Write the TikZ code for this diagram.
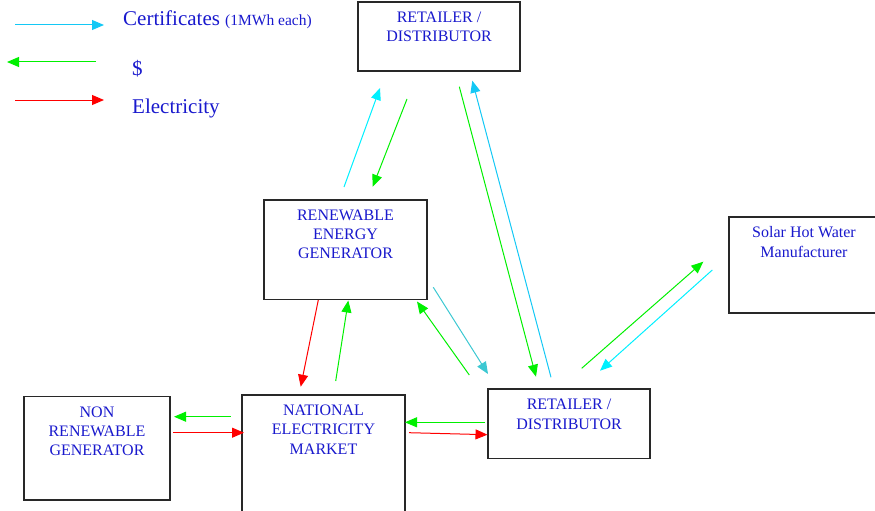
\documentclass[tikz,border=0pt]{standalone}
\usepackage{fontspec}
\setmainfont{Liberation Serif}
\usetikzlibrary{arrows.meta}
\definecolor{txtblue}{RGB}{25,25,205}
\definecolor{cgreen}{RGB}{0,240,0}
\definecolor{cred}{RGB}{255,0,0}
\definecolor{ccyan}{RGB}{0,240,255}
\definecolor{csky}{RGB}{20,200,245}
\definecolor{cteal}{RGB}{60,200,210}
\definecolor{boxline}{RGB}{40,40,40}
\tikzset{
  box/.style={draw=boxline, line width=1.3pt, fill=white, inner sep=0pt},
  boxtext/.style={text=txtblue, align=center, font=\fontsize{16}{19.2}\selectfont, inner sep=0pt},
  legtext/.style={text=txtblue, anchor=base west, inner sep=0pt, font=\fontsize{21}{24}\selectfont},
  arr/.style={line width=1pt, -{Triangle[length=12pt,width=10pt]}}
}
\begin{document}
\begin{tikzpicture}[x=1pt,y=-1pt]
\useasboundingbox (0,0) rectangle (875,511);
\clip (0,0) rectangle (875,511);

% boxes
\node[box, minimum width=162, minimum height=69] (topret) at (439,36.5) {};
\node[box, minimum width=163, minimum height=99.5] (reg) at (345.5,249.75) {};
\node[box, minimum width=151, minimum height=96] (solar) at (804.5,265) {};
\node[box, minimum width=146, minimum height=103.5] (nonren) at (97,448.25) {};
\node[box, minimum width=163, minimum height=130] (nem) at (323.5,460) {};
\node[box, minimum width=162, minimum height=69.5] (botret) at (569,423.75) {};

% box texts
\node[boxtext] (topretT) at (439,26.5) {RETAILER /\\DISTRIBUTOR};
\node[boxtext] (regT) at (345.5,234) {RENEWABLE\\ENERGY\\GENERATOR};
\node[boxtext] (solarT) at (804,242) {Solar Hot Water\\Manufacturer};
\node[boxtext] (nonrenT) at (97,431) {NON\\RENEWABLE\\GENERATOR};
\node[boxtext] (nemT) at (323.5,429.5) {NATIONAL\\ELECTRICITY\\MARKET};
\node[boxtext] (botretT) at (569,414.2) {RETAILER /\\DISTRIBUTOR};

% legend
\coordinate (lc1) at (15,25);   \coordinate (lc2) at (104,25);
\coordinate (lg1) at (96,62);   \coordinate (lg2) at (7,62);
\coordinate (lr1) at (15,100);  \coordinate (lr2) at (104,100);
\draw[arr, csky] (lc1) -- (lc2);
\draw[arr, cgreen] (lg1) -- (lg2);
\draw[arr, cred] (lr1) -- (lr2);
\node[legtext] (legC) at (123,26) {Certificates {\fontsize{15.5}{18}\selectfont (1MWh each)}};
\node[legtext] (legD) at (132,75) {\$};
\node[legtext] (legE) at (132,113.3) {Electricity};

% connector end points
\coordinate (a1s) at (344,187);   \coordinate (a1e) at (380,88);
\coordinate (a2s) at (407,99);    \coordinate (a2e) at (372.7,186.7);
\coordinate (a3s) at (459.3,86.7);\coordinate (a3e) at (536,376.7);
\coordinate (a4s) at (551,377.3); \coordinate (a4e) at (472.3,80.7);
\coordinate (a5s) at (433.3,287.3);\coordinate (a5e) at (488,374);
\coordinate (a6s) at (469.3,375); \coordinate (a6e) at (417,301.5);
\coordinate (a7s) at (581.7,368.3);\coordinate (a7e) at (703.3,261.7);
\coordinate (a8s) at (712.3,270); \coordinate (a8e) at (600,370.7);
\coordinate (a9s) at (318.3,300); \coordinate (a9e) at (300.7,386.7);
\coordinate (a10s) at (335.7,381);\coordinate (a10e) at (348.3,300.5);
\coordinate (a11s) at (230.7,416.7);\coordinate (a11e) at (174,416.7);
\coordinate (a12s) at (173,432.7);\coordinate (a12e) at (244,432.7);
\coordinate (a13s) at (485,422.3);\coordinate (a13e) at (405,422.3);
\coordinate (a14s) at (409,432.7);\coordinate (a14e) at (487.5,434.7);

% connectors
\draw[arr, ccyan]  (a1s) -- (a1e);
\draw[arr, cgreen] (a2s) -- (a2e);
\draw[arr, cgreen] (a3s) -- (a3e);
\draw[arr, csky]   (a4s) -- (a4e);
\draw[arr, cteal]  (a5s) -- (a5e);
\draw[arr, cgreen] (a6s) -- (a6e);
\draw[arr, cgreen] (a7s) -- (a7e);
\draw[arr, ccyan]  (a8s) -- (a8e);
\draw[arr, cred]   (a9s) -- (a9e);
\draw[arr, cgreen] (a10s) -- (a10e);
\draw[arr, cgreen] (a11s) -- (a11e);
\draw[arr, cred]   (a12s) -- (a12e);
\draw[arr, cgreen] (a13s) -- (a13e);
\draw[arr, cred]   (a14s) -- (a14e);
\end{tikzpicture}
\end{document}
